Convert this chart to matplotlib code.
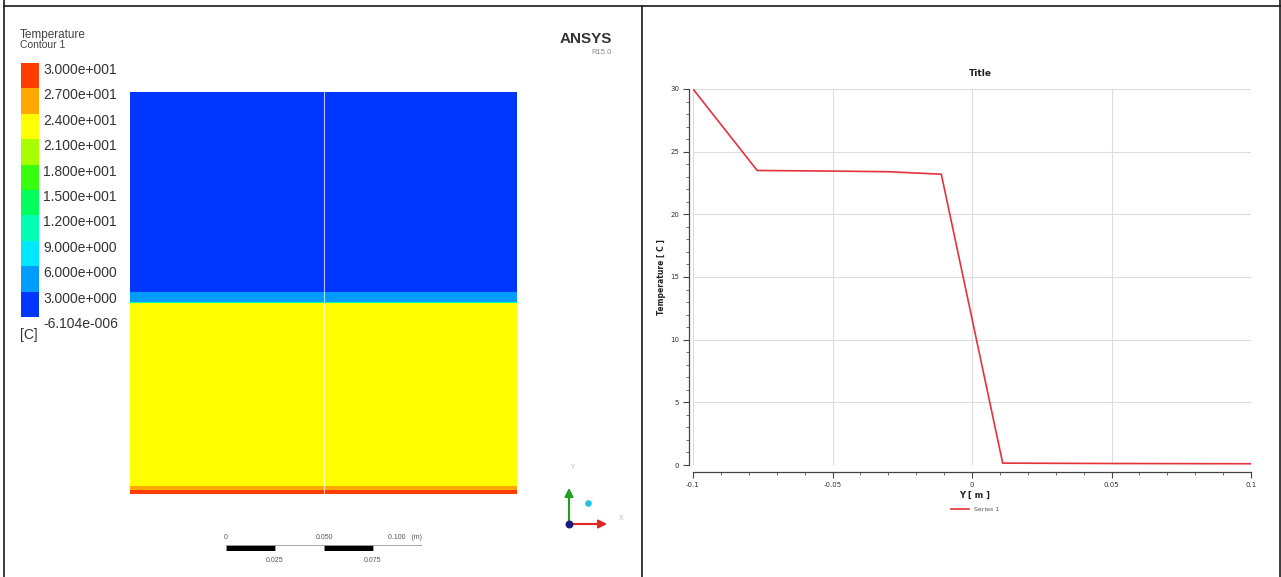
import numpy as np
import matplotlib.pyplot as plt

W, H = 1281, 577

# legend of the contour plot
levels = [-6.104e-06, 3, 6, 9, 12, 15, 18, 21, 24, 27, 30]
level_labels = ['-6.104e-006', '3.000e+000', '6.000e+000', '9.000e+000',
                '1.200e+001', '1.500e+001', '1.800e+001', '2.100e+001',
                '2.400e+001', '2.700e+001', '3.000e+001']
band_colors = ['#0036ff', '#009cff', '#00e8ff', '#00ffb4', '#00ff5a',
               '#36ff10', '#a8ff00', '#ffff00', '#ffa800', '#ff3c00']

# temperature through the domain (bottom to top), used for the contour
domain_x = [-0.1, 0.1]
domain_y = [-0.1, -0.0956, -0.0052, -0.0046, 0.0006, 0.1]
domain_T = [30, 23.4, 23.2, 6.1, 2.9, 0.1]

# line chart: temperature along Y
line_y = [-0.1, -0.077, -0.05, -0.03, -0.011, 0.011, 0.05, 0.1]
line_T = [30, 23.5, 23.45, 23.4, 23.2, 0.15, 0.12, 0.1]
xticks = [-0.1, -0.05, 0, 0.05, 0.1]
xtick_labels = ['-0.1', '-0.05', '0', '0.05', '0.1']
yticks = [0, 5, 10, 15, 20, 25, 30]

# scale bar
scale_edges = [0, 0.025, 0.05, 0.075, 0.1]
scale_fill = ['black', 'white', 'black', 'white']
scale_top = ['0', '0.050', '0.100   (m)']
scale_bottom = ['0.025', '0.075']

fig = plt.figure(figsize=(W / 100, H / 100), dpi=100)


def px_axes(x0, y0, x1, y1):
    return fig.add_axes([x0 / W, 1 - y1 / H, (x1 - x0) / W, (y1 - y0) / H])


ARIAL = 'Liberation Sans'

# ---- left panel: contour ----
ax = px_axes(130, 92, 517, 494)
X, Y = np.meshgrid(domain_x, domain_y)
T = np.tile(np.array(domain_T)[:, None], (1, len(domain_x)))
ax.contourf(X, Y, T, levels=levels, colors=band_colors)
ax.axvline(0, color='white', lw=0.8, alpha=0.7)
ax.set_xlim(-0.1, 0.1)
ax.set_ylim(-0.1, 0.1)
ax.axis('off')

cax = px_axes(21, 63, 39, 317)
cax.bar(0.5, 1, bottom=np.arange(len(band_colors)), color=band_colors, width=1)
cax.set_xlim(0, 1)
cax.set_ylim(0, len(band_colors))
cax.axis('off')
for i, lab in enumerate(level_labels):
    cax.text(1.25, i, lab, transform=cax.get_yaxis_transform(), va='top',
             ha='left', fontsize=10, family=ARIAL, color='#333333')

# scale bar
sax = px_axes(226, 545, 422, 551)
for j, c in enumerate(scale_fill):
    sax.bar(scale_edges[j], 1, width=scale_edges[j + 1] - scale_edges[j],
            align='edge', color=c, edgecolor='#999999', lw=0.6)
sax.set_xlim(0, 0.1)
sax.set_ylim(0, 1)
sax.axis('off')
for v, lab, ha in zip(scale_edges[::2], scale_top,
                      ['center', 'center', 'right']):
    sax.text(v, 2.3, lab, ha=ha, va='center', fontsize=5, color='#555555',
             family=ARIAL)
for v, lab in zip(scale_edges[1::2], scale_bottom):
    sax.text(v, -1.5, lab, ha='center', va='center', fontsize=5,
             color='#555555', family=ARIAL)

# ---- right panel: line chart ----
ax2 = px_axes(693, 89, 1251, 465)
ax2.plot(line_y, line_T, color='#e5323c', lw=1.2, label='Series 1', zorder=3)
ax2.set_xlim(-0.1, 0.1)
ax2.set_ylim(0, 30)
ax2.spines[['top', 'right']].set_visible(False)
ax2.spines['bottom'].set_position(('outward', 5))
ax2.spines['left'].set_position(('outward', 3))
for s in ('bottom', 'left'):
    ax2.spines[s].set_color('#444444')
    ax2.spines[s].set_linewidth(0.9)
ax2.set_xticks(xticks)
ax2.set_xticklabels(xtick_labels)
ax2.set_xticks(np.arange(-0.1, 0.1001, 0.01), minor=True)
ax2.set_yticks(yticks)
ax2.set_yticks(np.arange(0, 30.01, 1), minor=True)
ax2.tick_params(which='major', length=4, width=0.8, labelsize=5,
                labelcolor='#333333', color='#444444', pad=3)
ax2.tick_params(which='minor', length=2, width=0.6, color='#555555')
ax2.grid(True, which='major', color='#dddddd', lw=0.8)
ax2.legend(loc='center', bbox_to_anchor=(975 / W, 1 - 509 / H),
           bbox_transform=fig.transFigure, frameon=False, fontsize=4.5,
           handlelength=3, labelcolor='#555555')

fig.text(980 / W, 1 - 73 / H, 'Title', ha='center', va='center',
         fontsize=6.5, fontweight='bold', color='#222222')
fig.text(975 / W, 1 - 495 / H, 'Y [ m ]', ha='center', va='center',
         fontsize=6, fontweight='bold', color='#222222')
fig.text(661 / W, 1 - 277 / H, 'Temperature [ C ]', ha='center', va='center',
         rotation=90, fontsize=5.5, fontweight='bold', color='#222222')

# ---- overlay in pixel coordinates: borders, titles, triad ----
ov = fig.add_axes([0, 0, 1, 1])
ov.set_xlim(0, W)
ov.set_ylim(H, 0)
ov.axis('off')

ov.plot([4, W], [6, 6], color='#1a1a1a', lw=1.2)
ov.plot([4, 4], [0, H], color='#1a1a1a', lw=1.2)
ov.plot([642, 642], [6, H], color='#1a1a1a', lw=1.2)
ov.plot([1279.5, 1279.5], [0, H], color='#1a1a1a', lw=1.2)

ov.text(20, 35, 'Temperature', fontsize=8.5, family=ARIAL, color='#444444',
        va='center')
ov.text(20, 45, 'Contour 1', fontsize=7.5, family=ARIAL, color='#444444',
        va='center')
ov.text(20, 335, '[C]', fontsize=10, family=ARIAL, color='#333333',
        va='center')
ov.text(612, 39, 'ANSYS', fontsize=11, fontweight='bold', family=ARIAL,
        color='#333333', ha='right', va='center')
ov.text(612, 52, 'R15.0', fontsize=5.5, family=ARIAL, color='#888888',
        ha='right', va='center')

# coordinate triad
ov.annotate('', xy=(569, 485), xytext=(569, 525),
            arrowprops=dict(arrowstyle='-|>,head_length=0.5,head_width=0.25',
                            color='#22a022', lw=1.5))
ov.annotate('', xy=(610, 524), xytext=(568, 524),
            arrowprops=dict(arrowstyle='-|>,head_length=0.5,head_width=0.25',
                            color='#e02828', lw=1.5))
ov.scatter([569], [524], s=22, color='#1a1a7a', zorder=5)
ov.scatter([588], [503], s=14, color='#22c4e4', zorder=5)
ov.text(572, 467, 'Y', fontsize=5, color='#bbbbbb', ha='center', va='center')
ov.text(621, 518, 'X', fontsize=5, color='#bbbbbb', ha='center', va='center')

fig.savefig('out.png', dpi=100)
